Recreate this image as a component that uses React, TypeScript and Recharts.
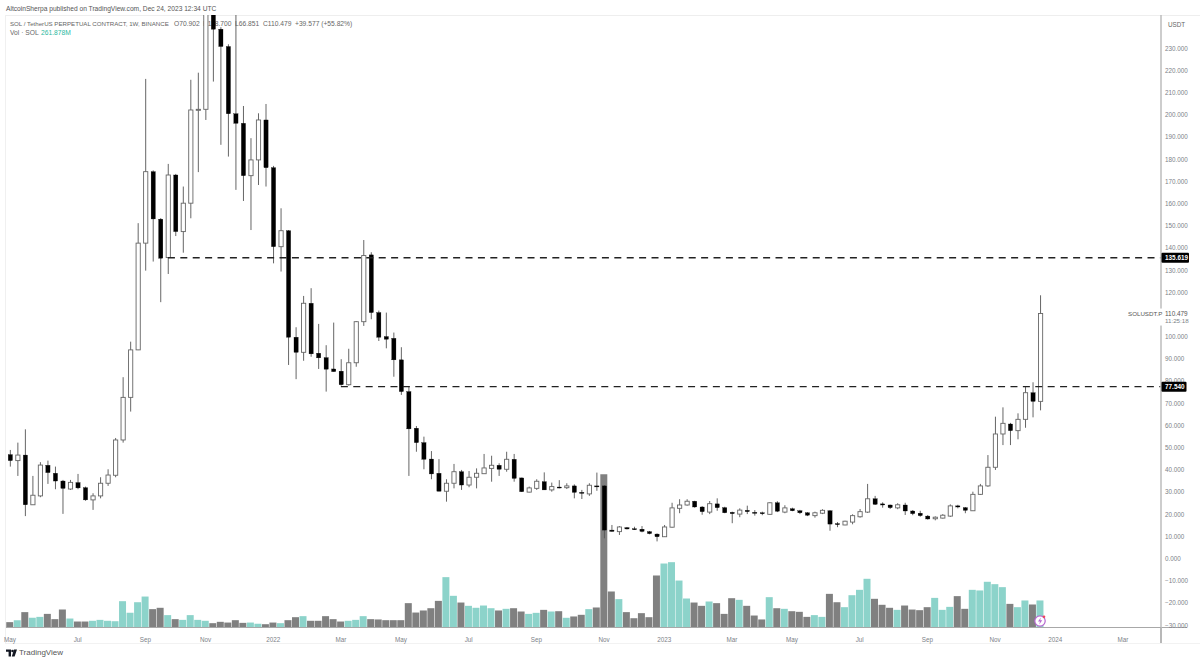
import React from 'react';
import { Bar, Cell, ComposedChart, ReferenceLine, XAxis, YAxis } from 'recharts';

// weekly candles
const opens = [
  46.9, 44.2, 46.7, 24.3, 28.3, 42.1, 38.5, 35.0, 31.4, 34.3,
  32.0, 26.5, 28.3, 34.0, 37.6, 53.5, 72.7, 94.1, 142.2, 174.4,
  153.0, 135.7, 172.9, 147.4, 160.2, 202.2, 202.5, 251, 238.6, 230.8,
  200.5, 196.2, 172.6, 179.7, 197.7, 176.2, 140.6, 147.8, 99.8, 93.0,
  115.1, 92.6, 90.6, 85.5, 84.5, 78.4, 88.3, 106.8, 136.9, 110.9,
  100.1, 99.3, 89.6, 75.3, 58.8, 52.3, 44.9, 38.5, 30.4, 34.0,
  39.2, 33.2, 36.7, 38.3, 40.7, 42.1, 40.3, 44.8, 36.4, 30.0,
  31.7, 34.7, 31.0, 32.3, 32.0, 32.8, 29.9, 29.2, 32.8, 32.8,
  12.9, 12.2, 14.0, 13.5, 13.3, 12.2, 11.1, 9.9, 14.2, 22.7,
  24.2, 25.9, 23.3, 21.0, 24.7, 23.0, 20.9, 20.1, 21.8, 20.9,
  20.7, 20.0, 25.2, 21.0, 22.5, 21.6, 20.7, 19.4, 20.5, 21.6,
  15.8, 15.2, 16.5, 18.9, 21.0, 27.0, 24.7, 24.2, 22.9, 24.2,
  21.5, 20.5, 19.2, 18.0, 18.3, 19.2, 23.8, 23.0, 21.6, 29.0,
  32.8, 41.2, 56.2, 60.7, 57.7, 62.8, 74.8, 70.9,
];
const closes = [
  44.2, 46.7, 24.3, 28.6, 42.2, 38.8, 35.0, 31.7, 34.4, 31.9,
  26.5, 28.3, 34.0, 37.7, 53.5, 72.7, 94.1, 142.2, 174.4, 153.1,
  135.4, 172.9, 147.4, 160.2, 202.2, 202.5, 251, 238.6, 230.8, 200.5,
  196.2, 172.6, 179.7, 197.7, 176.2, 140.6, 147.8, 99.8, 93.0, 115.1,
  92.3, 90.5, 85.4, 84.3, 78.4, 88.3, 106.8, 136.6, 110.9, 99.8,
  98.9, 89.6, 75.3, 58.5, 52.3, 44.8, 38.2, 30.4, 34.0, 39.2,
  33.2, 36.7, 38.5, 40.9, 42.1, 40.3, 44.8, 36.2, 30.2, 31.9,
  34.9, 31.0, 32.5, 32.0, 32.8, 29.9, 29.5, 33.1, 32.5, 12.9,
  12.3, 14.3, 13.4, 13.1, 12.3, 11.3, 9.9, 14.3, 22.9, 24.2,
  25.9, 23.3, 21.2, 24.8, 23.0, 20.7, 20.3, 21.9, 21.2, 20.6,
  20.5, 25.2, 21.4, 22.9, 21.6, 20.7, 19.6, 20.7, 21.8, 15.6,
  15.5, 16.9, 19.4, 21.2, 27.0, 24.5, 24.2, 23.0, 24.3, 21.5,
  20.3, 19.4, 17.9, 18.7, 19.6, 23.8, 23.3, 21.8, 29.0, 32.8,
  41.2, 56.2, 61.0, 57.7, 62.8, 74.8, 70.9, 110.48,
];
const highs = [
  49.0, 52.3, 58.3, 37.3, 43.5, 44.2, 41.5, 35.5, 35.5, 38.2,
  32.5, 29.5, 36.7, 40.3, 54.4, 81.8, 97.8, 151.2, 216.2, 175.0,
  153.5, 177.9, 173.4, 167.7, 215.8, 219.0, 257, 260, 239.5, 231.8,
  250, 204.0, 189.5, 200.7, 204.9, 177.0, 157.9, 148.1, 104.3, 118.4,
  121.9, 105.8, 96.2, 106.4, 89.9, 94.6, 107.1, 143.6, 138.1, 111.8,
  110.9, 101.9, 95.3, 77.5, 59.8, 55.0, 48.5, 44.9, 35.8, 42.7,
  40.0, 39.5, 40.7, 47.2, 46.4, 43.0, 48.2, 47.2, 36.5, 32.5,
  35.8, 38.9, 34.3, 35.4, 34.0, 33.5, 31.0, 34.0, 38.8, 33.2,
  15.2, 14.7, 14.3, 14.4, 14.7, 12.5, 11.4, 15.2, 25.2, 26.8,
  26.8, 26.1, 23.7, 26.0, 27.2, 23.4, 21.2, 22.7, 23.9, 21.9,
  21.2, 25.4, 25.9, 24.1, 23.0, 22.0, 21.0, 21.2, 22.3, 21.9,
  16.5, 17.1, 20.0, 22.4, 33.7, 28.3, 25.4, 24.4, 25.0, 25.2,
  21.9, 21.6, 19.7, 19.1, 20.1, 24.5, 24.3, 23.3, 30.2, 33.7,
  46.7, 64.0, 68.2, 61.2, 65.5, 77.8, 79.5, 118.7,
];
const lows = [
  41.5, 37.3, 19.2, 24.2, 27.7, 33.7, 31.3, 20.2, 31.0, 31.3,
  26.1, 22.0, 27.2, 32.8, 36.7, 52.3, 66.3, 94.0, 129.8, 133.9,
  115.6, 128.3, 145.4, 137.9, 153.4, 174.2, 197.7, 215, 186.5, 181.2,
  166.2, 161.2, 148.1, 168.4, 167.7, 133.1, 129.4, 87.3, 80.9, 89.2,
  91.0, 85.5, 75.3, 84.3, 78.0, 78.0, 86.5, 104.9, 107.9, 98.1,
  94.8, 82.0, 73.8, 37.3, 48.2, 40.3, 35.8, 30.4, 25.7, 31.7,
  31.0, 32.2, 31.7, 38.2, 34.7, 37.3, 39.2, 34.7, 30.1, 29.9,
  31.0, 31.0, 30.2, 31.7, 31.4, 27.2, 26.9, 28.3, 30.6, 9.2,
  12.2, 10.7, 13.2, 13.0, 11.9, 11.0, 7.8, 9.8, 14.0, 20.5,
  23.9, 23.0, 19.8, 20.1, 21.6, 20.5, 16.0, 18.7, 20.1, 19.4,
  19.6, 19.8, 21.0, 20.5, 21.4, 20.1, 19.2, 18.5, 20.1, 12.6,
  14.2, 15.1, 15.5, 18.5, 20.6, 24.2, 23.0, 22.4, 22.3, 19.7,
  19.6, 18.9, 17.6, 17.3, 18.1, 18.8, 22.7, 20.5, 21.5, 28.7,
  32.4, 40.0, 51.2, 51.2, 53.8, 59.0, 63.7, 66.85,
];
// millions of SOL
const volumes = [
  52, 71, 149, 94, 103, 132, 81, 174, 87, 58,
  58, 65, 74, 65, 61, 255, 142, 245, 300, 178,
  191, 120, 81, 74, 120, 74, 65, 42, 55, 48,
  71, 45, 48, 36, 32, 48, 42, 71, 100, 110,
  65, 65, 110, 81, 58, 65, 74, 110, 81, 78,
  71, 71, 71, 236, 145, 165, 187, 258, 488, 307,
  242, 210, 191, 213, 187, 165, 181, 187, 155, 132,
  142, 171, 155, 158, 94, 107, 123, 178, 194, 1486,
  349, 275, 149, 90, 139, 100, 504, 620, 633, 455,
  281, 242, 210, 252, 236, 132, 284, 268, 210, 116,
  78, 294, 187, 181, 158, 152, 103, 120, 103, 326,
  245, 197, 313, 365, 472, 278, 220, 191, 171, 213,
  174, 168, 197, 287, 171, 200, 304, 181, 365, 359,
  443, 420, 391, 229, 197, 262, 223, 262,
];

const FUTURE_SLOTS = 16; // empty weeks to the right of the last candle
const xTickIndex = [0, 9, 18, 26, 35, 44, 52, 61, 70, 79, 87, 96, 104, 113, 122, 131, 139, 148];
const xTickLabels = ['May', 'Jul', 'Sep', 'Nov', '2022', 'Mar', 'May', 'Jul', 'Sep', 'Nov', '2023', 'Mar', 'May', 'Jul', 'Sep', 'Nov', '2024', 'Mar'];
const priceTicks = [230, 220, 210, 200, 190, 180, 170, 160, 150, 140, 130, 120, 100, 90, 80, 70, 60, 50, 40, 30, 20, 10, 0, -10, -20, -30];
const upperLevel = 135.619;
const lowerLevel = 77.54;
const lastPrice = 110.479;
const upperLevelStart = 21;
const lowerLevelStart = 44;

const rows = Array.from({ length: opens.length + FUTURE_SLOTS }, (_, i) => ({
  idx: i,
  open: opens[i],
  close: closes[i],
  high: highs[i],
  low: lows[i],
  volume: volumes[i],
}));
const lastSlot = rows.length - 1;

const GREY_TEXT = '#7c7f88';
const FONT = '"Liberation Sans", Arial, sans-serif';

const Candle = (props: any) => {
  const { x, y, width, height, payload } = props;
  if (payload.open === undefined || !height) return null;
  const perUnit = height / (payload.high - payload.low);
  const bodyTop = y + (payload.high - Math.max(payload.open, payload.close)) * perUnit;
  const bodyH = Math.max(Math.abs(payload.open - payload.close) * perUnit, 1);
  const up = payload.close >= payload.open;
  const mid = x + width / 2;
  return (
    <g>
      <line x1={mid} x2={mid} y1={y} y2={y + height} stroke="#555" strokeWidth={0.9} />
      <rect
        x={x}
        y={bodyTop}
        width={width}
        height={bodyH}
        fill={up ? '#fff' : '#000'}
        stroke={up ? '#666' : '#000'}
        strokeWidth={up ? 0.9 : 0.3}
      />
    </g>
  );
};

const PriceTick = (props: any) => {
  const { x, y, payload } = props;
  const v = payload.value;
  if (v === upperLevel || v === lowerLevel) {
    return (
      <g>
        <rect x={x - 3.5} y={y - 5} width={v === upperLevel ? 27.5 : 25} height={10} rx={1} fill="#000" />
        <text x={x} y={y + 2.4} fontSize={6.4} fontWeight={700} fill="#fff" fontFamily={FONT}>{v === upperLevel ? '135.619' : '77.540'}</text>
      </g>
    );
  }
  if (v === lastPrice) {
    return (
      <g>
        <rect x={x - 38} y={y - 5} width={73} height={17} fill="#fff" />
        <text x={x - 37} y={y + 2.4} fontSize={6.2} fill="#555" fontFamily={FONT}>SOLUSDT.P</text>
        <text x={x} y={y + 2.4} fontSize={6.4} fill="#555" fontFamily={FONT}>110.479</text>
        <text x={x} y={y + 9.6} fontSize={6.2} fill={GREY_TEXT} fontFamily={FONT}>11:25:18</text>
      </g>
    );
  }
  const label = v.toFixed(3).replace('-', '\u2212');
  return <text x={x} y={y + 2.3} fontSize={6.3} fill={GREY_TEXT} fontFamily={FONT}>{label}</text>;
};

const Label = ({ x, y, size = 6.7, color = '#666', children }: any) => (
  <div style={{ position: 'absolute', left: x, top: y, fontSize: size, lineHeight: '10px', color, whiteSpace: 'pre', fontFamily: FONT }}>
    {children}
  </div>
);

const Rule = ({ x, y, w, h, color }: any) => (
  <div style={{ position: 'absolute', left: x, top: y, width: w, height: h, background: color }} />
);

export default function App() {
  const xPadding = { left: 0.24, right: -3.3 };
  return (
    <div style={{ position: 'absolute', left: 0, top: 0, width: 1200, height: 663, background: '#fff', overflow: 'hidden' }}>
      <Rule x={5} y={15} w={1195} h={1} color="#eeeeee" />
      <Rule x={5} y={15} w={1} h={628} color="#f0f0f0" />
      <Rule x={5} y={643} w={1195} h={1} color="#f2f2f2" />
      <Rule x={1161} y={627} w={26} h={1} color="#a8a8a8" />
      <Rule x={1160.3} y={627} w={1.4} h={16} color="#b8b8b8" />

      <Label x={6} y={3.5} size={6.65} color="#555">AltcoinSherpa published on TradingView.com, Dec 24, 2023 12:34 UTC</Label>
      <Label x={10} y={18.5} size={6.15}>SOL / TetherUS PERPETUAL CONTRACT, 1W, BINANCE</Label>
      <Label x={174} y={18.5}>O70.902</Label>
      <Label x={203} y={18.5}>H118.700</Label>
      <Label x={235} y={18.5}>L66.851</Label>
      <Label x={263} y={18.5}>C110.479</Label>
      <Label x={295} y={18.5}>+39.577 (+55.82%)</Label>
      <Label x={10} y={28}>Vol · SOL</Label>
      <Label x={41} y={28} color="#2bb8a0">261.878M</Label>
      <Label x={1168} y={19.5} size={6.3} color="#666">USDT</Label>

      <div style={{ position: 'absolute', left: 0, top: 0 }}>
        <ComposedChart width={1200} height={663} data={rows} margin={{ top: 15, right: 0, bottom: 0, left: 6 }}>
          <XAxis
            xAxisId="main"
            dataKey="idx"
            height={35.5}
            padding={xPadding}
            ticks={xTickIndex}
            interval={0}
            tickFormatter={(v: number) => xTickLabels[xTickIndex.indexOf(v)]}
            tickLine={false}
            tickMargin={4}
            axisLine={{ stroke: '#a8a8a8', strokeWidth: 1 }}
            tick={{ fontSize: 6.3, fill: GREY_TEXT, fontFamily: FONT }}
          />
          <XAxis xAxisId="vol" dataKey="idx" hide padding={xPadding} />
          <YAxis
            yAxisId="price"
            orientation="right"
            width={39}
            domain={[-31, 245]}
            allowDataOverflow
            ticks={[...priceTicks, lastPrice, upperLevel, lowerLevel]}
            interval={0}
            tickSize={0}
            tickMargin={4}
            tick={<PriceTick />}
            axisLine={{ stroke: '#b8b8b8', strokeWidth: 1.4 }}
          />
          <YAxis yAxisId="vol" hide domain={[0, 5935]} />

          <Bar xAxisId="vol" yAxisId="vol" dataKey="volume" barSize={7} isAnimationActive={false}>
            {rows.map((r) => (
              <Cell key={r.idx} fill={r.close >= r.open ? '#8cd3ca' : '#808080'} />
            ))}
          </Bar>
          <Bar
            xAxisId="main"
            yAxisId="price"
            dataKey={(r: any) => (r.open === undefined ? null : [r.low, r.high])}
            barSize={4.2}
            shape={<Candle />}
            isAnimationActive={false}
          />

          <ReferenceLine
            xAxisId="main"
            yAxisId="price"
            segment={[{ x: upperLevelStart, y: upperLevel }, { x: lastSlot, y: upperLevel }]}
            stroke="#222"
            strokeWidth={1.3}
            strokeDasharray="7 5.4"
          />
          <ReferenceLine
            xAxisId="main"
            yAxisId="price"
            segment={[{ x: lowerLevelStart, y: lowerLevel }, { x: lastSlot, y: lowerLevel }]}
            stroke="#222"
            strokeWidth={1.3}
            strokeDasharray="7 5.4"
          />
        </ComposedChart>
      </div>

      <svg style={{ position: 'absolute', left: 1033, top: 613 }} width={16} height={16}>
        <circle cx={7} cy={8} r={5.2} fill="#fff" stroke="#b565cf" strokeWidth={1.2} />
        <path d="M7.8 4.6 L5 8.6 H7 L6.2 11.4 L9.2 7.2 H7.2 Z" fill="#b565cf" />
        <circle cx={11} cy={3.8} r={1.3} fill="#f0455a" />
      </svg>

      <svg style={{ position: 'absolute', left: 6, top: 649 }} width={11} height={8}>
        <path d="M0 0.5 H5 V7.5 H2.6 V2.8 H0 Z" fill="#131722" />
        <circle cx={6.5} cy={2} r={1.3} fill="#131722" />
        <path d="M8 0.5 H11 L8.6 7.5 H5.8 Z" fill="#131722" />
      </svg>
      <Label x={19} y={648} size={8} color="#555">TradingView</Label>
    </div>
  );
}
